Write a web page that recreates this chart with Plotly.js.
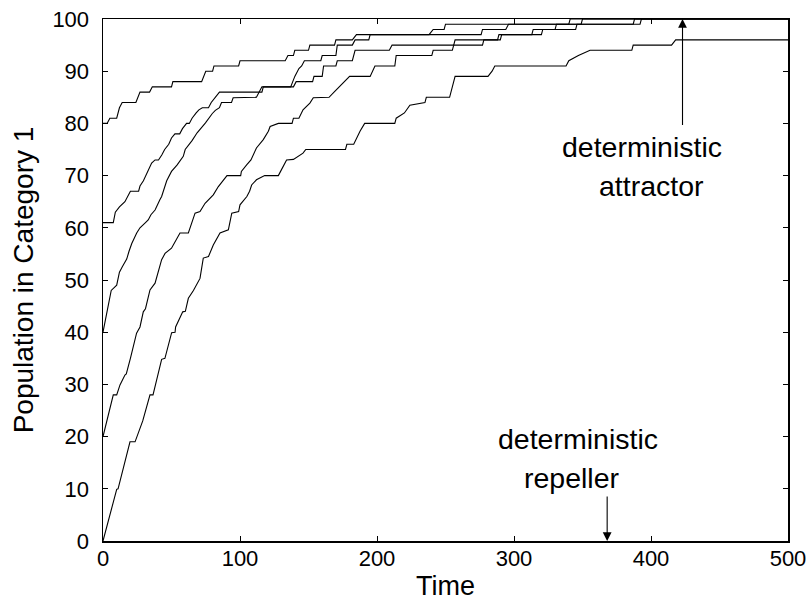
<!DOCTYPE html>
<html>
<head>
<meta charset="utf-8">
<script src="https://cdn.plot.ly/plotly-3.0.1.min.js"></script>
<style>
html,body{margin:0;padding:0;background:#fff;}
#chart{width:809px;height:601px;}
</style>
</head>
<body>
<div id="chart"></div>
<script>
// Population trajectories (time, population in category 1)
const tA = [0,3,5,10,12,14,24,27,34,36,50,51,72,75,80,81,99,100,133,135,139,140,150,151,169,170,182,185,238,241,249,250,340,341,500];
const yA = [80,80,81,81,83,84,84,86,86,87,87,88,88,90,90,91,91,92,92,93,93,94,94,95,95,96,96,97,97,98,98,99,99,100,100];

const tB = [0,7.5,9,12,16,20,26,27,29.5,32,35.5,38,40.5,43,45,48,50,52.5,56,58,61,63,65,68,70,72.5,77,79,83,85,116,117,137,140,143,145,147,159,160,170,171,182,184,194,195,276,277,294,296,349,350,500];
const yB = [61,61,63,64,65,67,67,68,69,70.5,72.4,73,73,74,75,76,77.2,78,78,79,80,80,81,82,82.6,83,83,84,85.2,86,86,87,87,89,90.5,91,92,92,93,93,95,95,96,96,97,97,98,98,99,99,100,100];

const tC = [0,6,10,12,14,17.3,19,21,24.6,27,31,33,35,38,41.6,42.8,46.5,50,54,58.6,60,65,68.7,72,74.8,79.8,82,85,86.5,93.8,95,112,114,116,139,141,153,154,160,161,170,171,182,184,209,211,256,257,288,289,313,314,330,331,387,388,500];
const yC = [40,48,49,51.5,52.5,54,55.5,57,59,60,61,61.5,62.5,63.4,65.4,66,69,70.8,72,73.7,75,76.7,78.2,79.2,80.1,81.9,82.5,83,84,84,84.9,85,86,87,87,88,88,89,89,91,91,92,92,94,94,95,95,96,96,97,97,98,98,99,99,100,100];

const tD = [0,7.5,10,12.4,16,17,20,24.5,27,29.4,31,34.3,38,42.8,45.3,48,50,56.2,62.3,67.2,70.8,74.5,80.5,84.2,87.8,90.5,100.5,101,105,108,112,114.6,117,120.7,122,128,138,139,143,146,151,153.5,165,169,173,178,180,195,197,198.5,213,214,240,241,255,256,277,278,290,291,320,321,345,346,392,393,500];
const yD = [20,28,28,29.9,31.8,32,35,39.8,41,43.9,44.5,48.1,49.4,53.9,55.1,55.7,56.1,59,59,62.8,63.1,64.7,66.3,67.9,69.2,70,70,70.8,72.1,73,75.3,76.2,76.9,78.5,79.4,80,80,81,81,82.6,83.9,84.9,85,86.1,87.1,88.4,89,89,90.3,91,91,93,93,94,94,95,95,96,96,97,97,98,98,99,99,100,100];

const tE = [0,10,11,19.7,23.4,29,34.3,36.5,42.8,45.2,50.1,52.6,53,58.2,60.1,62.3,66,70.8,73.2,77,80.5,85.4,91.5,94,99,100,105,107,108.5,112,118,128,130,132,134,139,146,148,177,178,183,187.6,191,213,214,220,224,235,236,253,254.5,257,281,284,286,338,340,347,355.5,386,387,415,418,500];
const yE = [0,9.9,10,19,19,23,28,28,34.8,35,39.9,40,41,43.9,44,46.5,48,50.3,54.2,54.5,56.7,59,59.6,62.8,63.1,64.4,66,67,68.2,69.2,70,70,71,72,73,73.1,74.3,75,75,76,76,78.5,80,80,81,82,83.5,84,85,85,86.5,89,89,90,91,91,92,93,94,94,95,95,96,96];

const xTicks = [0,100,200,300,400,500];
const yTicks = [0,10,20,30,40,50,60,70,80,90,100];

const FONT = 'Liberation Sans, Arial, Helvetica, sans-serif';
const series = [[tA,yA],[tB,yB],[tC,yC],[tD,yD],[tE,yE]];
const traces = series.map(s => ({
  x: s[0], y: s[1], type: 'scatter', mode: 'lines',
  line: {color: '#000', width: 1.1}, showlegend: false, hoverinfo: 'skip'
}));

const axisBase = {
  showgrid: false, zeroline: false, showline: true, linecolor: '#000', linewidth: 1.5,
  mirror: 'ticks', ticks: 'inside', ticklen: 5, tickwidth: 1, tickcolor: '#000',
  tickfont: {family: FONT, size: 22, color: '#000'}, fixedrange: true
};

const annFont = {family: FONT, size: 28.5, color: '#000'};

const layout = {
  width: 809, height: 601,
  margin: {l: 103, r: 21, t: 19, b: 60, pad: 0},
  paper_bgcolor: '#fff', plot_bgcolor: '#fff',
  font: {family: FONT, color: '#000'},
  xaxis: Object.assign({}, axisBase, {
    range: [0, 500], tickmode: 'array', tickvals: xTicks, ticktext: xTicks.map(String),
    ticklabelstandoff: -3,
    title: {text: 'Time', font: {family: FONT, size: 27, color: '#000'}, standoff: 8}
  }),
  yaxis: Object.assign({}, axisBase, {
    range: [0, 100], tickmode: 'array', tickvals: yTicks, ticktext: yTicks.map(String),
    ticklabelstandoff: 8,
    title: {text: 'Population in Category 1', font: {family: FONT, size: 28, color: '#000'}, standoff: 10}
  }),
  annotations: [
    {xref: 'x', yref: 'y', x: 393.5, y: 75.5, text: 'deterministic', showarrow: false,
     font: annFont, xanchor: 'center', yanchor: 'middle'},
    {xref: 'x', yref: 'y', x: 400, y: 68, text: 'attractor', showarrow: false,
     font: annFont, xanchor: 'center', yanchor: 'middle'},
    {xref: 'x', yref: 'y', x: 347, y: 19.5, text: 'deterministic', showarrow: false,
     font: annFont, xanchor: 'center', yanchor: 'middle'},
    {xref: 'x', yref: 'y', x: 342, y: 12, text: 'repeller', showarrow: false,
     font: annFont, xanchor: 'center', yanchor: 'middle'},
    {xref: 'x', yref: 'y', x: 423, y: 100, axref: 'x', ayref: 'y', ax: 423, ay: 79.4,
     text: '', showarrow: true, arrowhead: 2, arrowsize: 1.6, arrowwidth: 1.1, arrowcolor: '#000', standoff: 0, startstandoff: 0},
    {xref: 'x', yref: 'y', x: 368, y: 0, axref: 'x', ayref: 'y', ax: 368, ay: 8.8,
     text: '', showarrow: true, arrowhead: 2, arrowsize: 1.6, arrowwidth: 1.1, arrowcolor: '#000', standoff: 0, startstandoff: 0}
  ]
};

Plotly.newPlot('chart', traces, layout, {staticPlot: true, displayModeBar: false});
</script>
</body>
</html>
